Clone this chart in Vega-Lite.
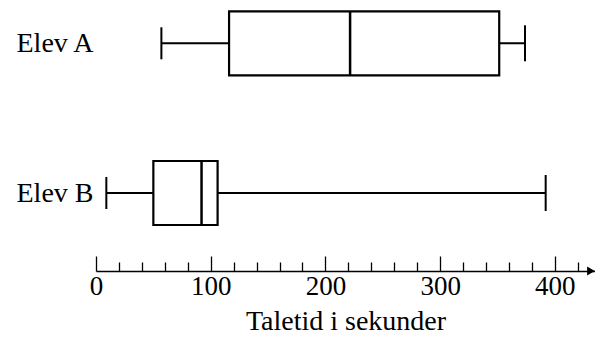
{
  "$schema": "https://vega.github.io/schema/vega-lite/v6.json",
  "width": 499,
  "height": 271,
  "padding": 0,
  "config": {"view": {"stroke": null}, "font": "Liberation Serif"},
  "layer": [
    {
      "data": {"values": [
        {"student": "Elev A", "min": 57, "q1": 116, "median": 221.5, "q3": 351.5, "max": 374},
        {"student": "Elev B", "min": 9, "q1": 50, "median": 92, "q3": 106, "max": 392}
      ]},
      "encoding": {
        "y": {
          "field": "student", "type": "nominal",
          "scale": {"type": "point", "padding": 0.405, "align": 0.357},
          "axis": {
            "title": null, "domain": false, "ticks": false,
            "labelFontSize": 28, "labelColor": "black", "labelFont": "Liberation Serif",
            "labelPadding": 3, "minExtent": 96, "maxExtent": 96
          }
        }
      },
      "layer": [
        {
          "mark": {"type": "rule", "color": "black", "strokeWidth": 2},
          "encoding": {
            "x": {
              "field": "min", "type": "quantitative",
              "scale": {"domain": [0, 435], "nice": false, "zero": true},
              "axis": {
                "values": [0, 20, 40, 60, 80, 100, 120, 140, 160, 180, 200, 220, 240, 260, 280, 300, 320, 340, 360, 380, 400, 420],
                "tickCount": 40,
                "tickSize": {"condition": {"test": "datum.value % 100 === 0", "value": -15}, "value": -9},
                "labelExpr": "datum.value % 100 === 0 ? datum.label : ''",
                "labelOverlap": false,
                "labelFlush": false,
                "grid": false,
                "domainColor": "black", "domainWidth": 1.5,
                "tickColor": "black", "tickWidth": 1.3,
                "labelFontSize": 27, "labelColor": "black", "labelFont": "Liberation Serif",
                "labelPadding": 17,
                "title": "Taletid i sekunder",
                "titleFontSize": 28, "titleFontWeight": "normal", "titleColor": "black",
                "titleFont": "Liberation Serif", "titlePadding": 2
              }
            },
            "x2": {"field": "max"}
          }
        },
        {
          "mark": {"type": "bar", "fill": "white", "stroke": "black", "strokeWidth": 2.2, "size": 64},
          "encoding": {
            "x": {"field": "q1", "type": "quantitative"},
            "x2": {"field": "q3"}
          }
        },
        {
          "mark": {"type": "tick", "color": "black", "opacity": 1, "size": 64, "thickness": 2.5},
          "encoding": {"x": {"field": "median", "type": "quantitative"}}
        },
        {
          "mark": {"type": "tick", "color": "black", "opacity": 1, "size": 32, "thickness": 2},
          "encoding": {"x": {"field": "min", "type": "quantitative"}}
        },
        {
          "mark": {"type": "tick", "color": "black", "opacity": 1, "size": 36, "thickness": 2},
          "encoding": {"x": {"field": "max", "type": "quantitative"}}
        }
      ]
    },
    {
      "data": {"values": [{"end": 431.5}]},
      "mark": {"type": "point", "shape": "triangle-right", "filled": true, "color": "black", "opacity": 1, "size": 80},
      "encoding": {
        "x": {"field": "end", "type": "quantitative"},
        "y": {"value": {"expr": "height"}}
      }
    }
  ]
}
